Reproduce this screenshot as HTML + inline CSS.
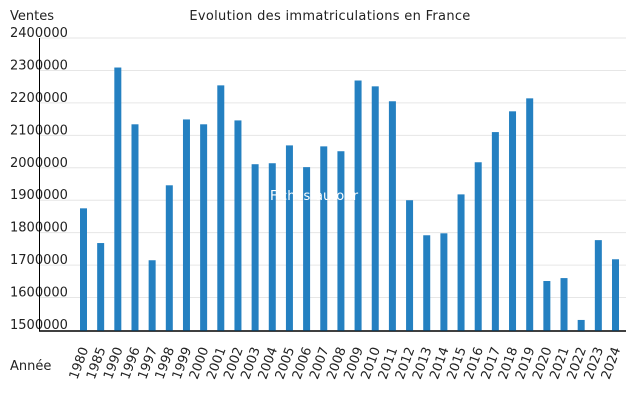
<!DOCTYPE html>
<html><head><meta charset="utf-8"><style>
body{margin:0;background:#fff;}
svg{display:block;font-family:"DejaVu Sans","Liberation Sans",sans-serif;}
</style></head><body>
<svg id="c" width="640" height="400">
<text x="10" y="20" font-size="13" fill="#222">Ventes</text>
<text x="330" y="20" font-size="13" fill="#222" text-anchor="middle" letter-spacing="0.3">Evolution des immatriculations en France</text>
<text x="10" y="370" font-size="13" fill="#222">Année</text>
<g id="grid"></g><g id="bars"></g><g id="xl"></g>
<text x="270" y="200" font-size="13" fill="#fff">Fiches-auto.fr</text>
</svg>
<script>
const categories=["1980","1985","1990","1996","1997","1998","1999","2000","2001","2002","2003","2004","2005","2006","2007","2008","2009","2010","2011","2012","2013","2014","2015","2016","2017","2018","2019","2020","2021","2022","2023","2024"];
const values=[1875000,1768000,2309000,2134000,1715000,1946000,2149000,2134000,2254000,2146000,2011000,2014000,2069000,2002000,2066000,2051000,2269000,2251000,2205000,1900000,1792000,1798000,1918000,2017000,2110000,2174000,2214000,1651000,1660000,1531000,1777000,1718000];
const yTicks=[1500000,1600000,1700000,1800000,1900000,2000000,2100000,2200000,2300000,2400000];
const NS="http://www.w3.org/2000/svg";
const y0=330,y1=38,vmin=1500000,vmax=2400000;
function y(v){return y0-(v-vmin)/(vmax-vmin)*(y0-y1);}
const x0=83.5,x1=615.5;
function x(i){return x0+(x1-x0)*i/(categories.length-1);}
function mk(t,a,p){const e=document.createElementNS(NS,t);for(const k in a)e.setAttribute(k,a[k]);p.appendChild(e);return e;}
const g=document.getElementById('grid');
yTicks.forEach(v=>{
 if(v>vmin){const l=mk('line',{x1:40,x2:626,y1:y(v),y2:y(v),stroke:'#e6e6e6','stroke-width':1},g);
 
 }
 const t=mk('text',{x:10,y:y(v)-1,'font-size':13,fill:'#222'},g);t.textContent=v;
 
 
});
const ax=mk('line',{x1:39.5,x2:39.5,y1:38,y2:331},g);ax.setAttribute('stroke','#000');


const bx=mk('line',{x1:39,x2:626,y1:331,y2:331,stroke:'#000','stroke-width':1.5},g);


const b=document.getElementById('bars'),xl=document.getElementById('xl');
values.forEach((v,i)=>{
 const r=mk('rect',{x:x(i)-3.5,y:y(v),width:7,height:y0-y(v)+0.5,fill:'#2480c1'},b);
 
 
 const t=mk('text',{x:0,y:0,'font-size':13,fill:'#222','text-anchor':'end',transform:`translate(${x(i)+5},349) rotate(-70)`},xl);
 t.textContent=categories[i];
 
 
});
</script>
</body></html>
